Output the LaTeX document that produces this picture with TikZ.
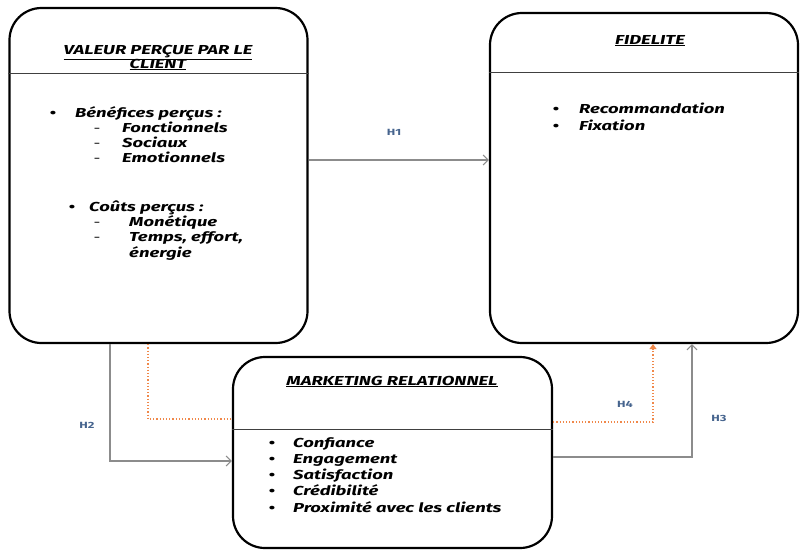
\documentclass[tikz,border=0pt]{standalone}
\usepackage{fontspec}
\setmainfont{Fira Sans}[FakeStretch=1.42]
\usetikzlibrary{arrows.meta}
\definecolor{linkgray}{HTML}{8C8C8C}
\definecolor{linkorange}{HTML}{F0884A}
\definecolor{hlabel}{HTML}{46648E}

\begin{document}
\begin{tikzpicture}[x=1pt,y=-1pt,
  panel/.style={draw=black, line width=2.2pt, rounded corners=32pt, inner sep=0pt},
  sep/.style={draw=black!75, line width=0.9pt},
  item/.style={font=\fontsize{13}{15}\selectfont\bfseries\itshape, inner sep=0pt, anchor=base west},
  ttl/.style={font=\fontsize{13}{15}\selectfont\bfseries\itshape, inner sep=0pt, anchor=base},
  dot/.style={font=\fontsize{13}{15}\selectfont\bfseries, inner sep=0pt, anchor=base},
  subbullet/.style={font=\fontsize{12}{15}\selectfont, inner sep=0pt, anchor=base},
  link/.style={draw=linkgray, line width=1.3pt, -{Straight Barb[length=5pt,width=10pt,line width=1.1pt]}},
  dotlink/.style={draw=linkorange, line width=1.2pt, dotted},
  hyp/.style={font=\fontsize{9}{10}\selectfont\bfseries, text=hlabel, inner sep=0pt}
]
\useasboundingbox (0,0) rectangle (801,550);

% the three panels
\node[panel, minimum width=298pt, minimum height=335pt] (val) at (158.5,175.5) {};
\node[panel, minimum width=308pt, minimum height=330pt] (fid) at (644,178) {};
\node[panel, minimum width=319pt, minimum height=191pt] (mkt) at (392.5,452.5) {};

% heading rules
\coordinate (valrule) at (0,73);
\coordinate (fidrule) at (0,72);
\coordinate (mktrule) at (0,429);
\draw[sep] (val.west |- valrule) -- (val.east |- valrule);
\draw[sep] (fid.west |- fidrule) -- (fid.east |- fidrule);
\draw[sep] (mkt.west |- mktrule) -- (mkt.east |- mktrule);

% headings
\node[ttl] (valt1) at (158,54) {\underline{VALEUR PERÇUE PAR LE}};
\node[ttl] (valt2) at (158,68) {\underline{CLIENT}};
\node[ttl] (fidt) at (650,44) {\underline{FIDELITE}};
\node[ttl] (mktt) at (392,385) {\underline{MARKETING RELATIONNEL}};

% perceived value contents
\node[dot]       (vd1) at (53,117) {•};
\node[item]      (v1)  at (75,117) {Bénéfices perçus :};
\node[subbullet] (vs1) at (97,132) {-};
\node[item]      (v2)  at (122,132) {Fonctionnels};
\node[subbullet] (vs2) at (97,147) {-};
\node[item]      (v3)  at (122,147) {Sociaux};
\node[subbullet] (vs3) at (97,162) {-};
\node[item]      (v4)  at (122,162) {Emotionnels};
\node[dot]       (vd2) at (72,211) {•};
\node[item]      (v5)  at (89,211) {Coûts perçus :};
\node[subbullet] (vs4) at (97,226) {-};
\node[item]      (v6)  at (129,226) {Monétique};
\node[subbullet] (vs5) at (97,241) {-};
\node[item]      (v7)  at (129,241) {Temps, effort,};
\node[item]      (v8)  at (129,257) {énergie};

% loyalty contents
\node[dot]  (fd1) at (556,113) {•};
\node[item] (f1)  at (579,113) {Recommandation};
\node[dot]  (fd2) at (556,130) {•};
\node[item] (f2)  at (579,130) {Fixation};

% relationship marketing contents
\node[dot]  (md1) at (272,447) {•};
\node[item] (m1)  at (293,447) {Confiance};
\node[dot]  (md2) at (272,463) {•};
\node[item] (m2)  at (293,463) {Engagement};
\node[dot]  (md3) at (272,479) {•};
\node[item] (m3)  at (293,479) {Satisfaction};
\node[dot]  (md4) at (272,495) {•};
\node[item] (m4)  at (293,495) {Crédibilité};
\node[dot]  (md5) at (272,512) {•};
\node[item] (m5)  at (293,512) {Proximité avec les clients};

% routing points
\coordinate (h1y) at (0,160);
\coordinate (h2x) at (110,0);
\coordinate (h2y) at (0,461);
\coordinate (oax) at (148,0);
\coordinate (oay) at (0,419);
\coordinate (h4x) at (653,0);
\coordinate (h4y) at (0,422);
\coordinate (h3x) at (692,0);
\coordinate (h3y) at (0,457);

% H1
\draw[link] (val.east |- h1y) -- (fid.west |- h1y);
% H2
\draw[link] (val.south -| h2x) -- (h2x |- h2y) -- (mkt.west |- h2y);
% dotted link value -> marketing
\draw[dotlink] (val.south -| oax) -- (oax |- oay) -- (mkt.west |- oay);
% H4
\draw[dotlink, -{Triangle[length=5pt,width=7pt]}] (mkt.east |- h4y) -- (h4x |- h4y) -- (fid.south -| h4x);
% H3
\draw[link] (mkt.east |- h3y) -- (h3x |- h3y) -- (fid.south -| h3x);

% hypothesis labels
\node[hyp] (lh1) at (394,132) {H1};
\node[hyp] (lh2) at (87,425) {H2};
\node[hyp] (lh4) at (625,404) {H4};
\node[hyp] (lh3) at (719,418) {H3};
\end{tikzpicture}
\end{document}
